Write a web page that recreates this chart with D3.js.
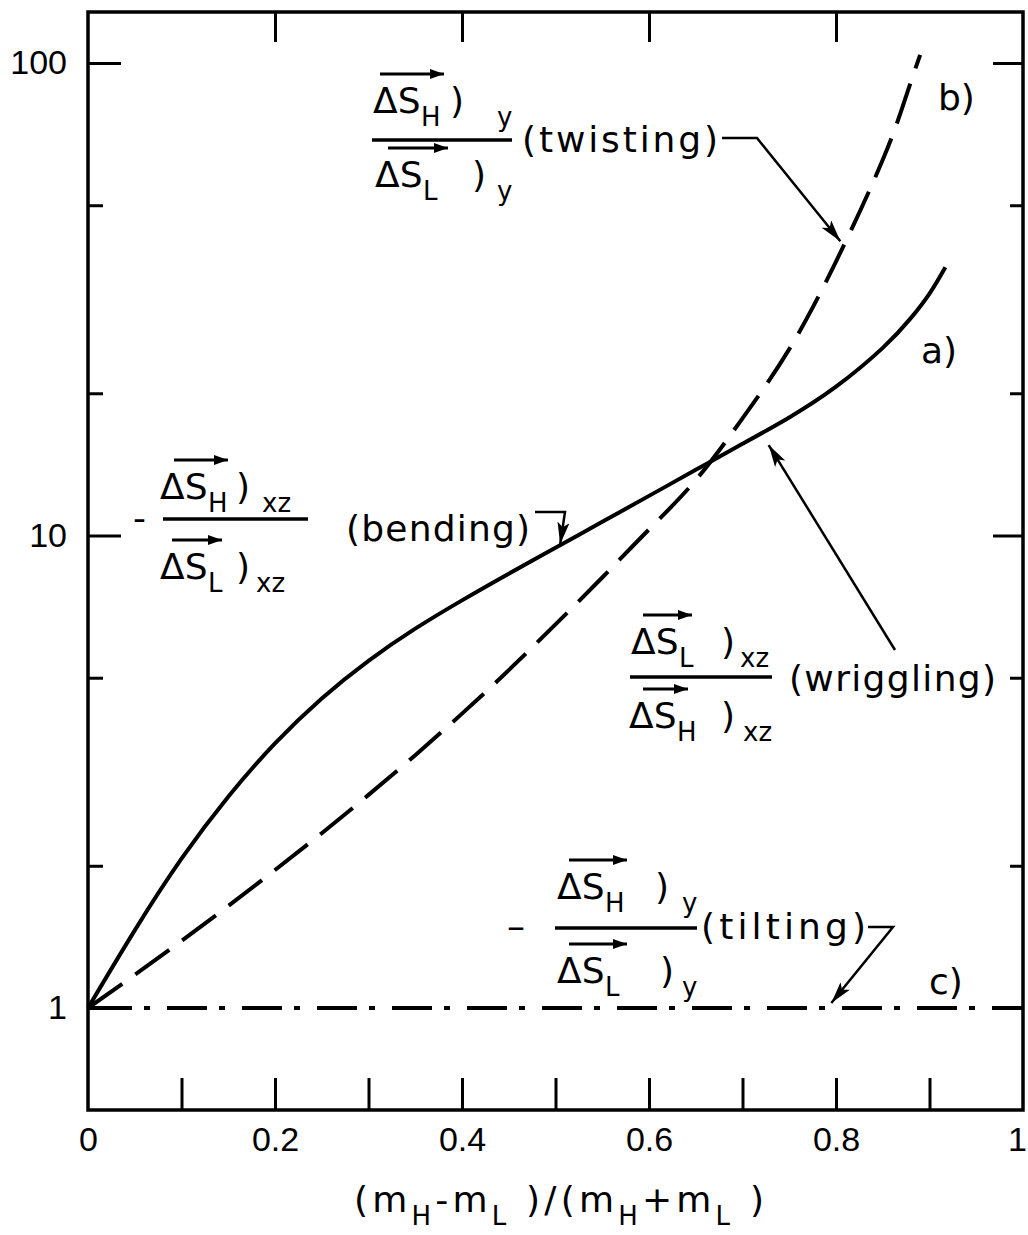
<!DOCTYPE html>
<html>
<head>
<meta charset="utf-8">
<script src="https://cdn.jsdelivr.net/npm/d3@7"></script>
<style>
  body { margin: 0; background: #fff; }
  svg { display: block; }
  .lab { font-family: "DejaVu Sans", sans-serif; font-size: 36px; fill: #000; }
  .frac { font-family: "DejaVu Sans", sans-serif; font-size: 36px; fill: #000; }
  .sub { font-family: "DejaVu Sans", sans-serif; font-size: 26px; fill: #000; }
  .tick text { font-family: "Liberation Sans", Arial, sans-serif; font-size: 34px; fill: #000; }
</style>
</head>
<body>
<script>
// a) bending ratio -ΔS_H/ΔS_L (xz), solid line
const aX = [0, 0.05, 0.1, 0.15, 0.2, 0.25, 0.3, 0.35, 0.4, 0.45, 0.5, 0.55, 0.6, 0.65, 0.7, 0.75, 0.8, 0.85, 0.88, 0.9, 0.917];
const aY = [1, 1.46, 2.07, 2.80, 3.63, 4.52, 5.43, 6.35, 7.29, 8.30, 9.42, 10.69, 12.13, 13.77, 15.63, 17.78, 20.65, 24.95, 28.84, 32.51, 36.98];

// b) twisting ratio ΔS_H/ΔS_L (y), dashed line
const bX = [0, 0.05, 0.1, 0.15, 0.2, 0.25, 0.3, 0.35, 0.4, 0.45, 0.5, 0.55, 0.6, 0.65, 0.7, 0.75, 0.8, 0.85, 0.875, 0.89];
const bY = [1, 1.175, 1.387, 1.644, 1.959, 2.344, 2.825, 3.428, 4.198, 5.188, 6.486, 8.15, 10.3, 13.1, 17.7, 24.8, 38.0, 62.4, 85.1, 104];

// c) tilting ratio -ΔS_H/ΔS_L (y), dash-dot line
const cX = [0, 1];
const cY = [1, 1];

// axis ticks
const xMinorTicks = [0.1, 0.2, 0.3, 0.4, 0.5, 0.6, 0.7, 0.8, 0.9];
const xTopTicks = [0.2, 0.4, 0.6, 0.8];
const xTickValues = [0, 0.2, 0.4, 0.6, 0.8, 1];
const xTickLabels = ["0", "0.2", "0.4", "0.6", "0.8", "1"];
const yMajorTicks = [1, 10, 100];
const yMinorTicks = [2, 5, 20, 50];
const yTickLabels = ["1", "10", "100"];

const W = 1028, H = 1235;
const frame = { left: 88, right: 1023, top: 12, bottom: 1110 };

const x = d3.scaleLinear().domain([0, 1]).range([frame.left, frame.right]);
const y = d3.scaleLog().domain([1, 100]).range([1008, 63]);

const svg = d3.select("body").append("svg")
  .attr("width", W).attr("height", H)
  .attr("viewBox", `0 0 ${W} ${H}`);

// arrowheads
const defs = svg.append("defs");
defs.append("marker")
  .attr("id", "head").attr("viewBox", "0 0 22 12")
  .attr("refX", 22).attr("refY", 6)
  .attr("markerWidth", 22).attr("markerHeight", 12)
  .attr("markerUnits", "userSpaceOnUse").attr("orient", "auto")
  .append("path").attr("d", "M0,0 L22,6 L0,12 L5,6 Z").attr("fill", "#000");
defs.append("marker")
  .attr("id", "vhead").attr("viewBox", "0 0 14 10")
  .attr("refX", 14).attr("refY", 5)
  .attr("markerWidth", 14).attr("markerHeight", 10)
  .attr("markerUnits", "userSpaceOnUse").attr("orient", "auto")
  .append("path").attr("d", "M0,0 L14,5 L0,10 Z").attr("fill", "#000");

// frame
svg.append("rect")
  .attr("x", frame.left).attr("y", frame.top)
  .attr("width", frame.right - frame.left).attr("height", frame.bottom - frame.top)
  .attr("fill", "none").attr("stroke", "#000").attr("stroke-width", 3.5);

function styleAxis(g) {
  g.select(".domain").remove();
  g.selectAll(".tick line").attr("stroke", "#000").attr("stroke-width", 3);
}

// left axis
svg.append("g").attr("transform", `translate(${frame.left},0)`)
  .call(d3.axisLeft(y).tickValues(yMajorTicks).tickSize(-33).tickPadding(21)
    .tickFormat(d => yTickLabels[yMajorTicks.indexOf(d)]))
  .call(styleAxis);
svg.append("g").attr("transform", `translate(${frame.left},0)`)
  .call(d3.axisLeft(y).tickValues(yMinorTicks).tickSize(-15).tickFormat(""))
  .call(styleAxis);
// right axis
svg.append("g").attr("transform", `translate(${frame.right},0)`)
  .call(d3.axisRight(y).tickValues(yMajorTicks).tickSize(-30).tickFormat(""))
  .call(styleAxis);
svg.append("g").attr("transform", `translate(${frame.right},0)`)
  .call(d3.axisRight(y).tickValues(yMinorTicks).tickSize(-13).tickFormat(""))
  .call(styleAxis);
// bottom axis
svg.append("g").attr("transform", `translate(0,${frame.bottom})`)
  .call(d3.axisBottom(x).tickValues(xMinorTicks).tickSize(-32).tickFormat(""))
  .call(styleAxis);
const xLab = svg.append("g").attr("transform", `translate(0,${frame.bottom})`)
  .call(d3.axisBottom(x).tickValues(xTickValues).tickSize(0).tickPadding(17)
    .tickFormat(d => xTickLabels[xTickValues.indexOf(d)]))
  .call(styleAxis);
// keep the last label inside the page
xLab.selectAll(".tick text").filter(d => d === 1).attr("dx", -6);
// top axis
svg.append("g").attr("transform", `translate(0,${frame.top})`)
  .call(d3.axisTop(x).tickValues(xTopTicks).tickSize(-30).tickFormat(""))
  .call(styleAxis);

// curves
const line = d3.line().x(d => x(d[0])).y(d => y(d[1])).curve(d3.curveNatural);
const zip = (xs, ys) => xs.map((v, i) => [v, ys[i]]);

svg.append("path").datum(zip(cX, cY)).attr("d", line)
  .attr("fill", "none").attr("stroke", "#000").attr("stroke-width", 4)
  .attr("stroke-dasharray", "40,12,6,17").attr("stroke-dashoffset", -4);
svg.append("path").datum(zip(bX, bY)).attr("d", line)
  .attr("fill", "none").attr("stroke", "#000").attr("stroke-width", 4)
  .attr("stroke-dasharray", "42,16");
svg.append("path").datum(zip(aX, aY)).attr("d", line)
  .attr("fill", "none").attr("stroke", "#000").attr("stroke-width", 4);

// value of a curve at a given abscissa (log interpolation)
function onCurve(xs, ys, xv) {
  const i = Math.max(0, Math.min(xs.length - 2, d3.bisectRight(xs, xv) - 1));
  const t = (xv - xs[i]) / (xs[i + 1] - xs[i]);
  return Math.exp(Math.log(ys[i]) * (1 - t) + Math.log(ys[i + 1]) * t);
}

// one term  ΔS_k )_c  with a vector arrow over ΔS
function term(g, o) {
  g.append("line")
    .attr("x1", o.a1).attr("x2", o.a2).attr("y1", o.base - 39).attr("y2", o.base - 39)
    .attr("stroke", "#000").attr("stroke-width", 3).attr("marker-end", "url(#vhead)");
  g.append("text").attr("class", "frac").attr("x", o.x).attr("y", o.base).text("ΔS");
  g.append("text").attr("class", "sub").attr("x", o.x + 48).attr("y", o.base + 13).text(o.k);
  g.append("text").attr("class", "frac").attr("x", o.px).attr("y", o.base).text(")");
  g.append("text").attr("class", "sub").attr("x", o.cx).attr("y", o.base + 13).text(o.c);
}

function fraction(g, o) {
  if (o.minus) {
    g.append("text").attr("class", "frac").attr("x", o.minus[0]).attr("y", o.bar + 11).text(o.minus[1]);
  }
  g.append("line").attr("x1", o.x1).attr("x2", o.x2)
    .attr("y1", o.bar).attr("y2", o.bar).attr("stroke", "#000").attr("stroke-width", 3.5);
  term(g, o.num);
  term(g, o.den);
  g.append("text").attr("class", "lab").attr("x", o.labX).attr("y", o.labY)
    .attr("textLength", o.labLen).attr("lengthAdjust", "spacing").text(o.label);
}

const ann = svg.append("g");

// b) twisting
fraction(ann, {
  x1: 372, x2: 512, bar: 140,
  num: { x: 373, base: 113, k: "H", px: 450, c: "y", cx: 497, a1: 380, a2: 444 },
  den: { x: 375, base: 187, k: "L", px: 472, c: "y", cx: 497, a1: 388, a2: 448 },
  label: "(twisting)", labX: 522, labY: 152, labLen: 196
});
// a) bending
fraction(ann, {
  minus: [133, "-"], x1: 163, x2: 308, bar: 519,
  num: { x: 160, base: 499, k: "H", px: 236, c: "xz", cx: 262, a1: 174, a2: 228 },
  den: { x: 160, base: 579, k: "L", px: 236, c: "xz", cx: 256, a1: 172, a2: 222 },
  label: "(bending)", labX: 346, labY: 541, labLen: 184
});
// a) wriggling (inverse ratio)
fraction(ann, {
  x1: 630, x2: 772, bar: 677,
  num: { x: 631, base: 654, k: "L", px: 721, c: "xz", cx: 740, a1: 643, a2: 692 },
  den: { x: 629, base: 728, k: "H", px: 721, c: "xz", cx: 743, a1: 643, a2: 688 },
  label: "(wriggling)", labX: 789, labY: 691, labLen: 207
});
// c) tilting
fraction(ann, {
  minus: [507, "–"], x1: 555, x2: 697, bar: 928,
  num: { x: 557, base: 899, k: "H", px: 655, c: "y", cx: 682, a1: 569, a2: 627 },
  den: { x: 557, base: 983, k: "L", px: 660, c: "y", cx: 682, a1: 569, a2: 627 },
  label: "(tilting)", labX: 701, labY: 939, labLen: 165
});

// curve tags
ann.append("text").attr("class", "lab").attr("x", 938).attr("y", 110).text("b)");
ann.append("text").attr("class", "lab").attr("x", 921).attr("y", 363).text("a)");
ann.append("text").attr("class", "lab").attr("x", 929).attr("y", 994).text("c)");

// leader arrows pointing at the curves
const leader = d3.line();
function lead(pts) {
  ann.append("path").attr("d", leader(pts)).attr("fill", "none")
    .attr("stroke", "#000").attr("stroke-width", 2.5).attr("marker-end", "url(#head)");
}
const twistTip = [x(0.81) - 5, y(onCurve(bX, bY, 0.81))];
lead([[722, 138], [757, 138], twistTip]);
const bendTip = [x(0.505), y(onCurve(aX, aY, 0.505)) - 1];
lead([[535, 512], [565, 512], bendTip]);
const wrigTip = [x(0.728), y(onCurve(aX, aY, 0.728)) + 16];
lead([[895, 650], wrigTip]);
const tiltTip = [x(0.795), y(1) - 5];
lead([[868, 927], [893, 927], tiltTip]);

// x-axis title
const title = svg.append("text").attr("class", "lab")
  .attr("x", 559).attr("y", 1212).attr("text-anchor", "middle")
  .attr("textLength", 410).attr("lengthAdjust", "spacing");
const pieces = [["(m", 0], ["H", 1], ["-m", 0], ["L", 1], [" )/(m", 0], ["H", 1], ["+m", 0], ["L", 1], [" )", 0]];
let lowered = false;
pieces.forEach(([t, isSub]) => {
  const ts = title.append("tspan").text(t);
  if (isSub && !lowered) { ts.attr("dy", 13).style("font-size", "26px"); lowered = true; }
  else if (!isSub && lowered) { ts.attr("dy", -13); lowered = false; }
});
</script>
</body>
</html>
